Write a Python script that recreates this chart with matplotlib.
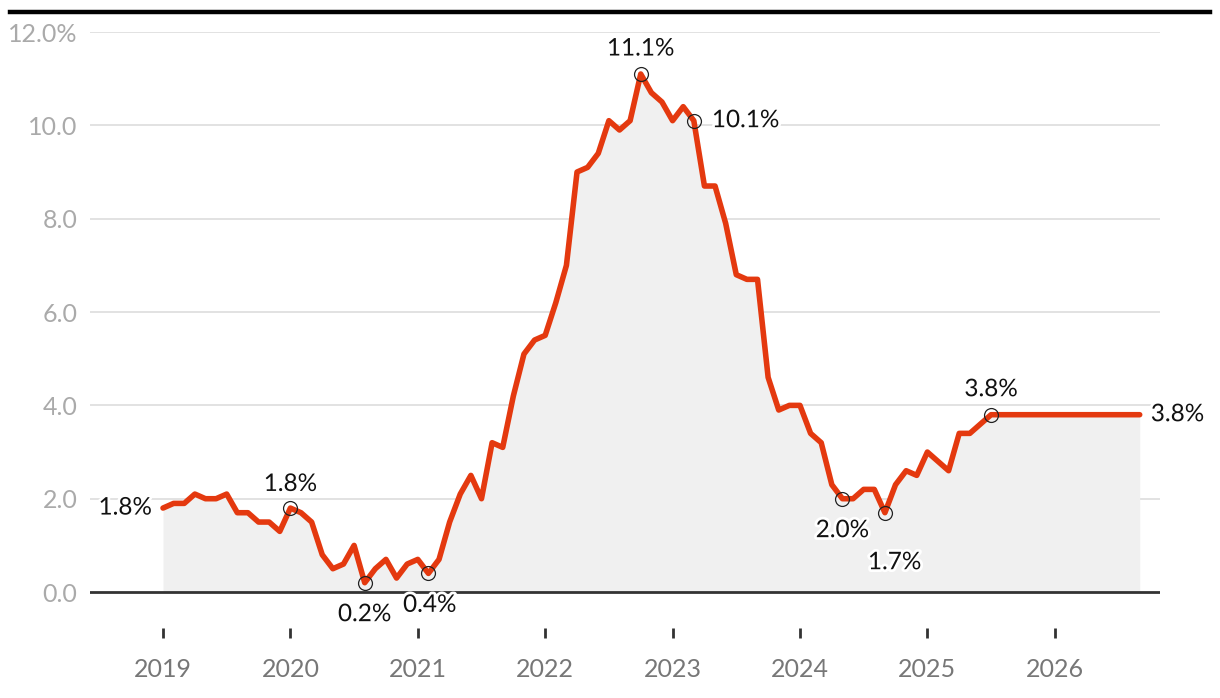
import pandas as pd
import matplotlib.pyplot as plt
import matplotlib.patheffects as pe
from matplotlib.lines import Line2D

plt.rcParams['font.family'] = ['Lato', 'DejaVu Sans']

# Monthly CPI inflation, Jan 2019 - Jul 2025 (%)
start_month = "2019-01"
cpi_2019 = [1.8, 1.9, 1.9, 2.1, 2.0, 2.0, 2.1, 1.7, 1.7, 1.5, 1.5, 1.3]
cpi_2020 = [1.8, 1.7, 1.5, 0.8, 0.5, 0.6, 1.0, 0.2, 0.5, 0.7, 0.3, 0.6]
cpi_2021 = [0.7, 0.4, 0.7, 1.5, 2.1, 2.5, 2.0, 3.2, 3.1, 4.2, 5.1, 5.4]
cpi_2022 = [5.5, 6.2, 7.0, 9.0, 9.1, 9.4, 10.1, 9.9, 10.1, 11.1, 10.7, 10.5]
cpi_2023 = [10.1, 10.4, 10.1, 8.7, 8.7, 7.9, 6.8, 6.7, 6.7, 4.6, 3.9, 4.0]
cpi_2024 = [4.0, 3.4, 3.2, 2.3, 2.0, 2.0, 2.2, 2.2, 1.7, 2.3, 2.6, 2.5]
cpi_2025 = [3.0, 2.8, 2.6, 3.4, 3.4, 3.6, 3.8]

# latest value held flat to the end of the chart
hold_month = "2026-09"
hold_value = 3.8

# labelled points: month, text, offset in points (dx, dy), alignment
labels = [
    ("2020-01", "1.8%", (0, 17), "center"),
    ("2020-08", "0.2%", (0, -23), "center"),
    ("2021-02", "0.4%", (1, -23), "center"),
    ("2022-10", "11.1%", (0, 18), "center"),
    ("2023-03", "10.1%", (13, 0), "left"),
    ("2024-05", "2.0%", (0, -23), "center"),
    ("2024-09", "1.7%", (7, -36), "center"),
    ("2025-07", "3.8%", (0, 18), "center"),
]

values = cpi_2019 + cpi_2020 + cpi_2021 + cpi_2022 + cpi_2023 + cpi_2024 + cpi_2025
months = pd.period_range(start_month, periods=len(values), freq="M")


def to_year(p):
    p = pd.Period(p, freq="M")
    return p.year + (p.month - 1) / 12


x = [to_year(m) for m in months] + [to_year(hold_month)]
y = values + [hold_value]
lookup = {str(m): v for m, v in zip(months, values)}

red = "#e4390f"
halo = [pe.withStroke(linewidth=4, foreground="white")]

fig = plt.figure(figsize=(12.2, 6.98), dpi=100)
ax = fig.add_axes([90 / 1220, 1 - 628 / 698, 1070 / 1220, 596 / 698])

ax.fill_between(x, y, 0, color="#f0f0f0", lw=0, zorder=1)
for g in range(2, 13, 2):
    ax.axhline(g, color="#e2e2e2", lw=1.4, zorder=0.5)
ax.axhline(0, color="#333333", lw=2, zorder=2)
ax.plot(x, y, color=red, lw=4, solid_capstyle="round", solid_joinstyle="round", zorder=3)

for m, txt, (dx, dy), ha in labels:
    xm, ym = to_year(m), lookup[m]
    ax.plot(xm, ym, "o", ms=10, mfc="none", mec="#222222", mew=0.9, zorder=4)
    ax.annotate(txt, (xm, ym), xytext=(dx, dy), textcoords="offset points",
                ha=ha, va="center", fontsize=17.5, color="#111111",
                path_effects=halo, zorder=5)

# first and last values
ax.annotate("1.8%", (x[0], y[0]), xytext=(-8, 0), textcoords="offset points",
            ha="right", va="center", fontsize=17.5, color="#111111", path_effects=halo, zorder=5)
ax.annotate("3.8%", (x[-1], y[-1]), xytext=(8, 0), textcoords="offset points",
            ha="left", va="center", fontsize=17.5, color="#111111", path_effects=halo, zorder=5)

ax.set_xlim(2018.427, 2026.826)
ax.set_ylim(-0.77, 12)
ax.set_xticks(range(2019, 2027))
ax.set_xticklabels([str(yr) for yr in range(2019, 2027)])
yt = list(range(0, 13, 2))
ax.set_yticks(yt)
ax.set_yticklabels([f"{v:.1f}%" if v == 12 else f"{v:.1f}" for v in yt])
ax.tick_params(axis="x", length=7.5, width=2, color="#333333", labelsize=18,
               labelcolor="#777777", pad=14)
ax.tick_params(axis="y", length=0, labelsize=18, labelcolor="#aaaaaa", pad=9)
for s in ax.spines.values():
    s.set_visible(False)

fig.add_artist(Line2D([10 / 1220, 1210 / 1220], [1 - 12 / 698] * 2, color="black", lw=3.2))

fig.savefig("out.png", dpi=100)
